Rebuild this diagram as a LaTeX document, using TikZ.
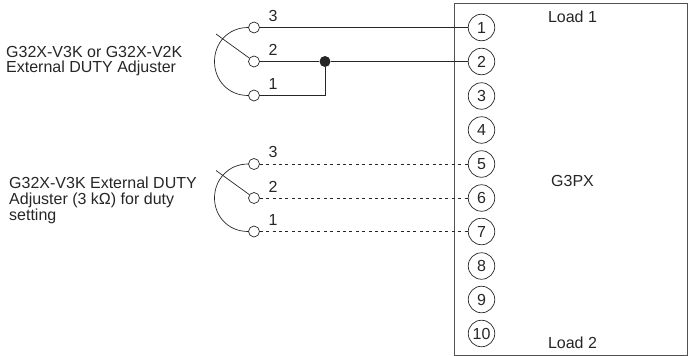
\documentclass[tikz,border=0pt]{standalone}
\usepackage{fontspec}
\setmainfont{Liberation Sans}
\definecolor{ink}{gray}{0.15}
\tikzset{
  px/.style={x=1pt,y=-1pt},
  wire/.style={draw=ink,line width=0.7pt},
  dotwire/.style={draw=ink,line width=0.7pt,dash pattern=on 3pt off 3.4pt},
  term/.style={circle,draw=ink,line width=0.7pt,minimum size=26.5pt,inner sep=0pt,font=\fontsize{16}{16}\selectfont,text=ink},
  pin/.style={circle,draw=ink,fill=white,line width=0.7pt,minimum size=11pt,inner sep=0pt},
  lbl/.style={inner sep=0pt,font=\fontsize{16}{16}\selectfont,text=ink},
  num/.style={inner sep=0pt,font=\fontsize{16}{16}\selectfont,text=ink},
  joint/.style={circle,fill=ink,minimum size=11pt,inner sep=0pt}
}
\begin{document}
\begin{tikzpicture}[px]
\useasboundingbox (0,0) rectangle (688,356);
\node[draw=ink!80,line width=0.9pt,minimum width=233pt,minimum height=352pt,inner sep=0pt,anchor=north west] (box) at (454,3) {};
\foreach \n/\y in {1/27.5,2/61.5,3/96,4/130,5/164,6/198,7/231.5,8/266,9/299.5,10/333.5}
  \node[term] (t\n) at (481.5,\y) {\n};
% upper adjuster
\node[pin] (a3) at (254,27.5) {};
\node[pin] (a2) at (254,61.5) {};
\node[pin] (a1) at (254,95.5) {};
\node[joint] (j) at (325,61.5) {};
\coordinate (wa) at (216,34);
\draw[wire] (a3) -- (t1);
\draw[wire] (a2) -- (j) -- (t2);
\draw[wire] (a1) -| (j);
\draw[wire] (a3.west) .. controls (228,27.5) and (214.5,43) .. (214.5,61.5) .. controls (214.5,80) and (228,95.5) .. (a1.west);
\draw[wire] (wa) -- (a2);
\node[num] at (273,15.5) {3};
\node[num] at (273,50) {2};
\node[num] at (273,83.5) {1};
% lower adjuster
\node[pin] (b3) at (254,164) {};
\node[pin] (b2) at (254,198) {};
\node[pin] (b1) at (254,231.5) {};
\coordinate (wb) at (216,170.5);
\draw[dotwire] (b3) -- (t5);
\draw[dotwire] (b2) -- (t6);
\draw[dotwire] (b1) -- (t7);
\draw[wire] (b3.west) .. controls (228,164) and (214.5,180) .. (214.5,198) .. controls (214.5,216) and (228,231.5) .. (b1.west);
\draw[wire] (wb) -- (b2);
\node[num] at (273,151.5) {3};
\node[num] at (273,186.5) {2};
\node[num] at (273,220) {1};
% texts
\node[lbl,anchor=base west] (l1) at (6,57) {G32X-V3K or G32X-V2K};
\node[lbl,anchor=base west] (l2) at (6,72.5) {External DUTY Adjuster};
\node[lbl,anchor=base west] (l3) at (9,188) {G32X-V3K External DUTY};
\node[lbl,anchor=base west] (l4) at (9,204) {Adjuster (3 kΩ) for duty};
\node[lbl,anchor=base west] (l5) at (9,220) {setting};
\node[lbl] (load1) at (572.5,17) {Load 1};
\node[lbl] (g3) at (572.5,181) {G3PX};
\node[lbl] (load2) at (572.5,343) {Load 2};
\end{tikzpicture}
\end{document}
